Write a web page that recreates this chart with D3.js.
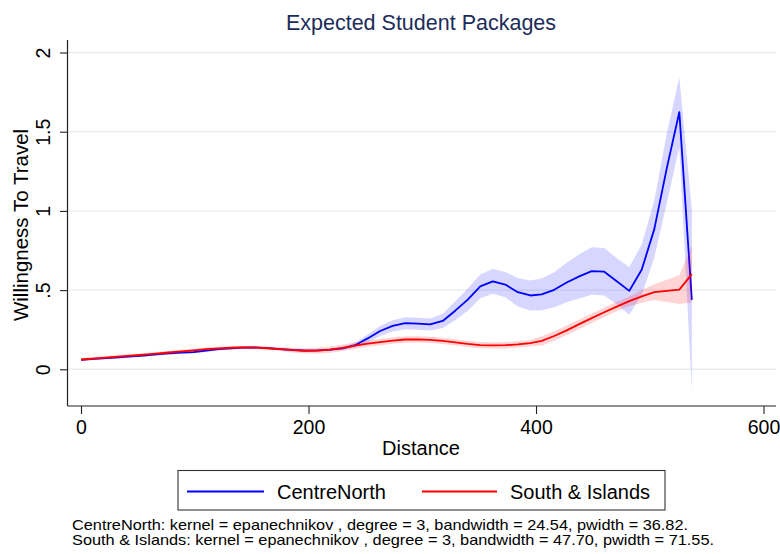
<!DOCTYPE html>
<html>
<head>
<meta charset="utf-8">
<script src="https://cdn.jsdelivr.net/npm/d3@7"></script>
<style>
  html, body { margin: 0; padding: 0; background: #fff; }
  svg { display: block; font-family: "Liberation Sans", Arial, sans-serif; }
</style>
</head>
<body>
<svg id="chart" width="780" height="554"></svg>
<script>
// Local polynomial smooths of willingness to travel by distance, with 95% CI bands
const distance = [0, 11, 22, 33, 44, 55, 66, 77, 88, 99, 110, 121, 132, 142, 153, 164, 175, 186, 197, 208,
  219, 230, 241, 252, 263, 274, 285, 296, 307, 318, 329, 340, 351, 362, 373, 384, 395, 405, 416, 427,
  438, 449, 460, 471, 482, 493, 504, 515, 526, 537];

const centreNorth = [0.060, 0.066, 0.071, 0.076, 0.081, 0.087, 0.094, 0.100, 0.105, 0.109,
  0.118, 0.127, 0.133, 0.137, 0.138, 0.134, 0.128, 0.122, 0.118, 0.119,
  0.124, 0.132, 0.152, 0.195, 0.242, 0.274, 0.291, 0.288, 0.283, 0.305,
  0.370, 0.440, 0.523, 0.555, 0.535, 0.487, 0.466, 0.473, 0.502, 0.548,
  0.587, 0.620, 0.616, 0.556, 0.495, 0.630, 0.885, 1.270, 1.624, 0.438];
const centreNorthLo = [0.052, 0.058, 0.063, 0.068, 0.073, 0.079, 0.086, 0.092, 0.097, 0.101,
  0.110, 0.119, 0.125, 0.129, 0.130, 0.126, 0.120, 0.114, 0.110, 0.111,
  0.116, 0.122, 0.137, 0.170, 0.210, 0.239, 0.253, 0.250, 0.245, 0.260,
  0.310, 0.370, 0.448, 0.477, 0.455, 0.397, 0.371, 0.373, 0.392, 0.423,
  0.447, 0.470, 0.466, 0.411, 0.345, 0.470, 0.705, 1.050, 1.404, -0.137];
const centreNorthHi = [0.068, 0.074, 0.079, 0.084, 0.089, 0.095, 0.102, 0.108, 0.113, 0.117,
  0.126, 0.135, 0.141, 0.145, 0.146, 0.142, 0.136, 0.130, 0.126, 0.127,
  0.132, 0.142, 0.167, 0.220, 0.274, 0.309, 0.329, 0.326, 0.321, 0.350,
  0.430, 0.510, 0.598, 0.633, 0.615, 0.577, 0.561, 0.573, 0.612, 0.673,
  0.727, 0.770, 0.766, 0.701, 0.645, 0.790, 1.065, 1.490, 1.844, 1.013];

const southIslands = [0.062, 0.068, 0.074, 0.080, 0.086, 0.092, 0.099, 0.106, 0.113, 0.120,
  0.127, 0.132, 0.136, 0.138, 0.137, 0.133, 0.127, 0.121, 0.117, 0.118,
  0.124, 0.135, 0.150, 0.162, 0.171, 0.181, 0.188, 0.189, 0.186, 0.179,
  0.170, 0.160, 0.153, 0.151, 0.152, 0.157, 0.165, 0.179, 0.210, 0.246,
  0.285, 0.323, 0.360, 0.396, 0.430, 0.460, 0.487, 0.495, 0.503, 0.601];
const southIslandsLo = [0.052, 0.058, 0.064, 0.070, 0.076, 0.082, 0.089, 0.096, 0.103, 0.110,
  0.117, 0.122, 0.126, 0.128, 0.127, 0.123, 0.115, 0.106, 0.099, 0.098,
  0.104, 0.115, 0.130, 0.142, 0.151, 0.161, 0.168, 0.169, 0.166, 0.159,
  0.150, 0.140, 0.133, 0.131, 0.132, 0.137, 0.145, 0.149, 0.180, 0.216,
  0.255, 0.293, 0.330, 0.366, 0.400, 0.420, 0.437, 0.425, 0.413, 0.421];
const southIslandsHi = [0.072, 0.078, 0.084, 0.090, 0.096, 0.102, 0.109, 0.116, 0.123, 0.130,
  0.137, 0.142, 0.146, 0.148, 0.147, 0.143, 0.139, 0.136, 0.135, 0.138,
  0.144, 0.155, 0.170, 0.182, 0.191, 0.201, 0.208, 0.209, 0.206, 0.199,
  0.190, 0.180, 0.173, 0.171, 0.172, 0.177, 0.185, 0.209, 0.240, 0.276,
  0.315, 0.353, 0.390, 0.426, 0.460, 0.500, 0.537, 0.565, 0.593, 0.781];

const xTicks = [0, 200, 400, 600];
const yTicks = [0, 0.5, 1, 1.5, 2];
const yTickLabels = ["0", ".5", "1", "1.5", "2"];

const seriesNames = ["CentreNorth", "South & Islands"];
const seriesColors = ["#0000ff", "#ff0000"];
const bandColors = ["rgba(0,0,255,0.16)", "rgba(255,0,0,0.17)"];

const chartTitle = "Expected Student Packages";
const xTitle = "Distance";
const yTitle = "Willingness To Travel";
const notes = [
  "CentreNorth: kernel = epanechnikov , degree = 3, bandwidth = 24.54, pwidth = 36.82.",
  "South & Islands: kernel = epanechnikov , degree = 3, bandwidth = 47.70, pwidth = 71.55."
];
const noteWidths = [616, 642];

const svg = d3.select("#chart");
const FONT = "Liberation Sans, Arial, sans-serif";

// plot region
const plot = { left: 67.5, right: 776, top: 40, bottom: 406 };
const x = d3.scaleLinear().domain([0, 600]).range([81, 763.5]);
const y = d3.scaleLinear().domain([0, 2]).range([369.3, 52.5]);

// gridlines
svg.append("g")
  .selectAll("line")
  .data(yTicks)
  .join("line")
  .attr("x1", plot.left).attr("x2", plot.right)
  .attr("y1", d => y(d)).attr("y2", d => y(d))
  .attr("stroke", "#e8eef0")
  .attr("stroke-width", 1.4);

// series: band + line
const series = [
  { v: centreNorth, lo: centreNorthLo, hi: centreNorthHi },
  { v: southIslands, lo: southIslandsLo, hi: southIslandsHi }
];

series.forEach((s, k) => {
  const rows = distance.map((d, i) => ({ d, v: s.v[i], lo: s.lo[i], hi: s.hi[i] }));
  const area = d3.area().x(r => x(r.d)).y0(r => y(r.lo)).y1(r => y(r.hi));
  const line = d3.line().x(r => x(r.d)).y(r => y(r.v));
  svg.append("path")
    .datum(rows)
    .attr("d", area)
    .attr("fill", bandColors[k])
    .attr("stroke", "none");
  svg.append("path")
    .datum(rows)
    .attr("d", line)
    .attr("fill", "none")
    .attr("stroke", seriesColors[k])
    .attr("stroke-width", 1.8)
    .attr("stroke-linejoin", "round");
});

// axes
const axisColor = "#222";
const yAxis = svg.append("g")
  .attr("transform", `translate(${plot.left},0)`)
  .call(d3.axisLeft(y).tickValues(yTicks).tickSize(7.5)
    .tickFormat((d, i) => yTickLabels[i]));
yAxis.select(".domain").remove();
yAxis.selectAll(".tick line").attr("stroke", axisColor).attr("stroke-width", 1.1);
yAxis.selectAll(".tick text")
  .attr("x", null).attr("dy", null)
  .attr("transform", "translate(-17.5,0) rotate(-90)")
  .attr("text-anchor", "middle")
  .attr("fill", "#000")
  .style("font-family", FONT)
  .style("font-size", "19.5px");

const xAxis = svg.append("g")
  .attr("transform", `translate(0,${plot.bottom})`)
  .call(d3.axisBottom(x).tickValues(xTicks).tickSize(8).tickFormat(d3.format("d")));
xAxis.select(".domain").remove();
xAxis.selectAll(".tick line").attr("stroke", axisColor).attr("stroke-width", 1.1);
xAxis.selectAll(".tick text")
  .attr("y", 28).attr("dy", null)
  .attr("fill", "#000")
  .style("font-family", FONT)
  .style("font-size", "19.5px");

svg.append("line")
  .attr("x1", plot.left).attr("x2", plot.left)
  .attr("y1", plot.top).attr("y2", plot.bottom)
  .attr("stroke", axisColor).attr("stroke-width", 1.2);
svg.append("line")
  .attr("x1", plot.left).attr("x2", plot.right)
  .attr("y1", plot.bottom).attr("y2", plot.bottom)
  .attr("stroke", axisColor).attr("stroke-width", 1.2);

// titles
svg.append("text")
  .attr("x", 421).attr("y", 30)
  .attr("text-anchor", "middle")
  .attr("fill", "#1c2c5a")
  .style("font-family", FONT)
  .style("font-size", "21.5px")
  .text(chartTitle);

svg.append("text")
  .attr("x", 421).attr("y", 455)
  .attr("text-anchor", "middle")
  .attr("fill", "#000")
  .style("font-family", FONT)
  .style("font-size", "20px")
  .text(xTitle);

svg.append("text")
  .attr("transform", "translate(27.5,225) rotate(-90)")
  .attr("text-anchor", "middle")
  .attr("fill", "#000")
  .style("font-family", FONT)
  .style("font-size", "20.5px")
  .text(yTitle);

// legend
const legend = svg.append("g");
legend.append("rect")
  .attr("x", 178).attr("y", 470.5)
  .attr("width", 487).attr("height", 39.5)
  .attr("fill", "#fff")
  .attr("stroke", "#333").attr("stroke-width", 1.1);
const legendItems = [
  { x1: 187, x2: 264, tx: 277 },
  { x1: 422, x2: 497, tx: 510 }
];
legendItems.forEach((it, k) => {
  legend.append("line")
    .attr("x1", it.x1).attr("x2", it.x2)
    .attr("y1", 491.5).attr("y2", 491.5)
    .attr("stroke", seriesColors[k]).attr("stroke-width", 1.8);
  legend.append("text")
    .attr("x", it.tx).attr("y", 498.5)
    .attr("fill", "#000")
    .style("font-family", FONT)
    .style("font-size", "20px")
    .text(seriesNames[k]);
});

// notes
svg.append("g")
  .selectAll("text")
  .data(notes)
  .join("text")
  .attr("x", 72)
  .attr("y", (d, i) => 529.5 + i * 15.5)
  .attr("textLength", (d, i) => noteWidths[i])
  .attr("lengthAdjust", "spacingAndGlyphs")
  .attr("fill", "#000")
  .style("font-family", FONT)
  .style("font-size", "14.5px")
  .text(d => d);
</script>
</body>
</html>
